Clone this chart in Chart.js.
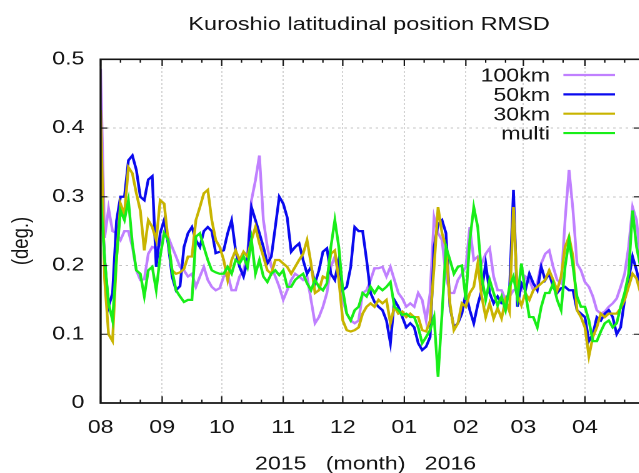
<!DOCTYPE html>
<html>
<head>
<meta charset="utf-8">
<script src="https://cdn.jsdelivr.net/npm/chart.js@4.4.1/dist/chart.umd.min.js"></script>
<style>
  html, body { margin: 0; padding: 0; background: #ffffff; overflow: hidden; }
  #wrap { position: relative; width: 639px; height: 473px; overflow: hidden; background: #fff; }
  #c { position: absolute; left: 0; top: 0; transform: scaleX(1.25); transform-origin: 0 0; }
</style>
</head>
<body>
<div id="wrap"><canvas id="c" width="520" height="473"></canvas></div>
<script>
// ---------------- data ----------------
const chartTitle = 'Kuroshio latitudinal position RMSD';
const yAxisTitle = '(deg.)';
const xAxisTitle = '2015   (month)   2016';

// day index counted from 1 Aug 2015
const days = [0,2,4,6,8,10,12,14,16,18,20,22,24,26,28,30,32,34,36,38,40,42,44,46,48,50,52,54,56,58,
  60,62,64,66,68,70,72,74,76,78,80,82,84,86,88,90,92,94,96,98,100,102,104,106,108,110,112,114,116,118,
  120,122,124,126,128,130,132,134,136,138,140,142,144,146,148,150,152,154,156,158,160,162,164,166,168,170,
  172,174,176,178,180,182,184,186,188,190,192,194,196,198,200,202,204,206,208,210,212,214,216,218,220,222,
  224,226,228,230,232,234,236,238,240,242,244,246,248,250,252,254,256,258,260,262,264,266,268,270,272];

const series100km = [
  0.486,0.24,0.283,0.25,0.247,0.237,0.25,0.25,0.227,0.193,
  0.179,0.18,0.217,0.227,0.225,0.23,0.247,0.242,0.227,0.213,
  0.198,0.193,0.184,0.188,0.169,0.184,0.198,0.179,0.169,0.164,
  0.167,0.184,0.188,0.164,0.164,0.184,0.193,0.217,0.295,0.324,
  0.36,0.266,0.227,0.198,0.184,0.169,0.15,0.164,0.179,0.188,
  0.184,0.179,0.184,0.15,0.116,0.125,0.14,0.16,0.198,0.213,
  0.184,0.15,0.13,0.12,0.116,0.12,0.16,0.164,0.179,0.196,
  0.196,0.198,0.184,0.198,0.179,0.16,0.152,0.14,0.145,0.14,
  0.16,0.15,0.12,0.16,0.27,0.247,0.237,0.184,0.16,0.16,
  0.179,0.188,0.198,0.256,0.208,0.213,0.203,0.217,0.225,0.184,
  0.164,0.164,0.15,0.155,0.164,0.167,0.164,0.184,0.179,0.164,
  0.174,0.203,0.217,0.222,0.198,0.179,0.174,0.266,0.339,0.28,
  0.203,0.193,0.176,0.169,0.155,0.135,0.13,0.133,0.14,0.145,
  0.152,0.169,0.188,0.227,0.285,0.266,0.208];

const series50km = [
  0.33,0.21,0.14,0.16,0.265,0.30,0.30,0.353,0.36,0.339,
  0.30,0.295,0.325,0.33,0.198,0.247,0.266,0.232,0.184,0.164,
  0.17,0.227,0.247,0.256,0.237,0.227,0.25,0.256,0.25,0.218,
  0.22,0.222,0.247,0.266,0.222,0.198,0.184,0.208,0.285,0.266,
  0.247,0.227,0.203,0.213,0.256,0.30,0.29,0.27,0.22,0.227,
  0.232,0.208,0.188,0.198,0.174,0.193,0.22,0.225,0.188,0.179,
  0.208,0.164,0.169,0.198,0.256,0.25,0.25,0.208,0.16,0.147,
  0.14,0.135,0.12,0.087,0.15,0.14,0.125,0.11,0.116,0.11,
  0.087,0.077,0.082,0.096,0.227,0.26,0.266,0.247,0.14,0.11,
  0.116,0.13,0.16,0.135,0.116,0.143,0.164,0.203,0.16,0.145,
  0.155,0.145,0.145,0.164,0.31,0.14,0.174,0.164,0.188,0.174,
  0.164,0.198,0.179,0.188,0.169,0.16,0.167,0.169,0.164,0.164,
  0.135,0.13,0.125,0.09,0.1,0.125,0.12,0.13,0.135,0.125,
  0.1,0.11,0.15,0.179,0.213,0.193,0.169];

const series30km = [
  0.426,0.18,0.10,0.09,0.21,0.29,0.275,0.343,0.334,0.305,
  0.28,0.222,0.266,0.256,0.237,0.295,0.29,0.237,0.193,0.188,
  0.19,0.195,0.213,0.213,0.266,0.285,0.305,0.31,0.266,0.237,
  0.227,0.208,0.179,0.208,0.222,0.208,0.22,0.213,0.237,0.256,
  0.232,0.213,0.193,0.188,0.208,0.208,0.203,0.198,0.188,0.198,
  0.208,0.217,0.237,0.203,0.16,0.164,0.184,0.181,0.217,0.222,
  0.179,0.12,0.106,0.104,0.106,0.11,0.13,0.14,0.145,0.14,
  0.15,0.145,0.15,0.116,0.14,0.13,0.133,0.125,0.13,0.125,
  0.125,0.106,0.104,0.12,0.198,0.285,0.247,0.227,0.145,0.106,
  0.116,0.145,0.14,0.16,0.169,0.203,0.155,0.125,0.145,0.123,
  0.138,0.123,0.15,0.133,0.285,0.157,0.142,0.16,0.15,0.164,
  0.169,0.174,0.179,0.193,0.179,0.164,0.184,0.227,0.242,0.213,
  0.135,0.125,0.11,0.068,0.096,0.11,0.13,0.125,0.13,0.13,
  0.13,0.138,0.15,0.169,0.188,0.181,0.16];

const seriesMulti = [
  0.30,0.21,0.145,0.12,0.21,0.28,0.266,0.295,0.232,0.193,
  0.188,0.155,0.193,0.198,0.164,0.213,0.247,0.237,0.193,0.164,
  0.155,0.147,0.15,0.15,0.242,0.247,0.227,0.208,0.193,0.19,
  0.188,0.188,0.198,0.188,0.208,0.203,0.213,0.198,0.237,0.188,
  0.208,0.184,0.176,0.188,0.193,0.186,0.193,0.169,0.169,0.179,
  0.184,0.188,0.174,0.164,0.179,0.169,0.164,0.174,0.227,0.266,
  0.227,0.164,0.13,0.12,0.135,0.14,0.16,0.155,0.169,0.16,
  0.169,0.164,0.169,0.176,0.14,0.135,0.128,0.13,0.125,0.125,
  0.11,0.087,0.096,0.106,0.125,0.038,0.13,0.227,0.208,0.188,
  0.198,0.20,0.15,0.237,0.285,0.256,0.184,0.15,0.179,0.16,
  0.142,0.155,0.135,0.169,0.184,0.152,0.203,0.16,0.125,0.125,
  0.11,0.14,0.16,0.16,0.174,0.15,0.135,0.198,0.237,0.198,
  0.155,0.14,0.14,0.12,0.09,0.09,0.104,0.116,0.12,0.11,
  0.116,0.14,0.16,0.188,0.28,0.227,0.198];

const seriesLabels = ['100km', '50km', '30km', 'multi'];
const seriesColors = ['#c080ff', '#0a0aee', '#c8b400', '#18ee18'];

const monthTickDays   = [0, 31, 61, 92, 122, 153, 184, 213, 244];
const monthTickLabels = ['08','09','10','11','12','01','02','03','04'];
const minorTickDays   = [10,20,41,51,71,81,102,112,132,142,163,173,194,204,223,233,254,264];
const yTickValues = [0, 0.1, 0.2, 0.3, 0.4, 0.5];
const yTickLabels = ['0', '0.1', '0.2', '0.3', '0.4', '0.5'];
const xMin = 0, xMax = 272, yMin = 0, yMax = 0.5;

// ---------------- chart ----------------
const FONT = "'Liberation Sans', Arial, Helvetica, sans-serif";
const TEXT = '#141414';
const allSeries = [series100km, series50km, series30km, seriesMulti];

const datasets = allSeries.map((vals, k) => ({
  label: seriesLabels[k],
  data: days.map((d, i) => ({ x: d, y: vals[i] })),
  borderColor: seriesColors[k],
  backgroundColor: seriesColors[k],
  borderWidth: 2.2,
  pointRadius: 0,
  tension: 0,
  fill: false,
  order: 3 - k
}));

const framePlugin = {
  id: 'gnuplotFrame',
  afterDatasetsDraw(chart) {
    const ctx = chart.ctx, a = chart.chartArea;
    const xs = chart.scales.x, ys = chart.scales.y;
    ctx.save();
    ctx.strokeStyle = '#141414';
    ctx.lineWidth = 1.7;
    ctx.beginPath();
    ctx.rect(a.left, a.top, a.right - a.left, a.bottom - a.top);
    ctx.stroke();
    ctx.lineWidth = 1.1;
    ctx.beginPath();
    monthTickDays.forEach(d => {
      const x = xs.getPixelForValue(d);
      ctx.moveTo(x, a.bottom); ctx.lineTo(x, a.bottom - 6.7);
      ctx.moveTo(x, a.top); ctx.lineTo(x, a.top + 6.7);
    });
    minorTickDays.forEach(d => {
      const x = xs.getPixelForValue(d);
      ctx.moveTo(x, a.bottom); ctx.lineTo(x, a.bottom - 3.4);
      ctx.moveTo(x, a.top); ctx.lineTo(x, a.top + 3.4);
    });
    yTickValues.forEach(v => {
      const y = ys.getPixelForValue(v);
      ctx.moveTo(a.left, y); ctx.lineTo(a.left + 5.4, y);
      ctx.moveTo(a.right, y); ctx.lineTo(a.right - 5.4, y);
    });
    ctx.stroke();
    ctx.restore();
  },
  afterDraw(chart) {
    const ctx = chart.ctx;
    ctx.save();
    ctx.fillStyle = TEXT;
    ctx.font = '18.8px ' + FONT;
    ctx.textAlign = 'center';
    ctx.textBaseline = 'alphabetic';
    ctx.fillText(chartTitle, 295.2, 30);
    ctx.font = '18.5px ' + FONT;
    ctx.fillText(xAxisTitle, 292.5, 469.5);
    ctx.save();
    ctx.translate(17.6, 241);
    ctx.rotate(-Math.PI / 2);
    ctx.textBaseline = 'middle';
    ctx.fillText(yAxisTitle, 0, 0);
    ctx.restore();
    // legend (gnuplot style: text right-aligned, line sample to the right)
    ctx.textAlign = 'right';
    chart.data.datasets.forEach((ds, i) => {
      const y = 75 + 19.35 * i;
      ctx.fillStyle = TEXT;
      ctx.fillText(ds.label, 440, y + 6.6);
      ctx.strokeStyle = ds.borderColor;
      ctx.lineWidth = 2.2;
      ctx.beginPath();
      ctx.moveTo(450.7, y); ctx.lineTo(492, y);
      ctx.stroke();
    });
    ctx.restore();
  }
};

new Chart(document.getElementById('c'), {
  type: 'line',
  data: { datasets },
  options: {
    responsive: false,
    animation: false,
    devicePixelRatio: 2,
    layout: { padding: { left: 0, top: 59.3, right: 7.6, bottom: 0 } },
    plugins: { legend: { display: false }, title: { display: false }, tooltip: { enabled: false } },
    scales: {
      x: {
        type: 'linear', min: xMin, max: xMax,
        afterBuildTicks: s => { s.ticks = monthTickDays.map(v => ({ value: v })); },
        afterFit: s => { s.height = 70; },
        ticks: { autoSkip: false, maxRotation: 0, padding: 14, color: TEXT,
                 font: { family: FONT, size: 18.5 },
                 callback: (v, i) => monthTickLabels[i] },
        grid: { color: '#c4c4c4', lineWidth: 1, drawTicks: false },
        border: { display: false, dash: [1.5, 2.5] }
      },
      y: {
        min: yMin, max: yMax,
        afterBuildTicks: s => { s.ticks = yTickValues.map(v => ({ value: v })); },
        afterFit: s => { s.width = 80.5; },
        ticks: { padding: 13, color: TEXT, font: { family: FONT, size: 18.5 },
                 callback: (v, i) => yTickLabels[i] },
        grid: { color: '#c4c4c4', lineWidth: 1, drawTicks: false },
        border: { display: false, dash: [2, 3] }
      }
    }
  },
  plugins: [framePlugin]
});
</script>
</body>
</html>
